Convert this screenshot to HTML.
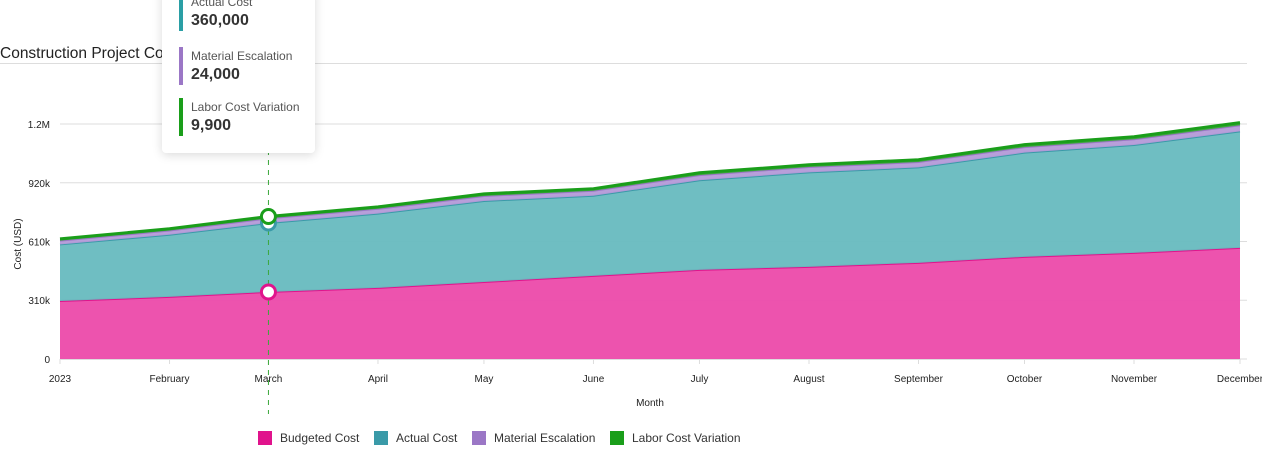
<!DOCTYPE html>
<html><head><meta charset="utf-8"><style>
body{margin:0;width:1280px;height:454px;overflow:hidden;background:#fff;font-family:"Liberation Sans",sans-serif;}
svg text{font-family:"Liberation Sans",sans-serif;}
</style></head><body>
<svg id="chart" width="1280" height="454" xmlns="http://www.w3.org/2000/svg">
<defs><clipPath id="cp"><rect x="0" y="0" width="1262" height="454"/></clipPath></defs>
<g clip-path="url(#cp)">
<text x="0" y="58" font-size="15.5" fill="#222">Construction Project Cost Overview (2023)</text>
<line x1="0" y1="63.5" x2="1247" y2="63.5" stroke="#ddd"/>
<g id="grid"></g>
<g id="areas"></g>
<g id="xaxis"></g>
<text transform="translate(21,244) rotate(-90)" text-anchor="middle" font-size="10" fill="#222">Cost (USD)</text>
<text x="650" y="406" text-anchor="middle" font-size="10" fill="#222">Month</text>
<g id="hover"></g>
<g id="legend"></g>
</g>
</svg>
<div style="position:absolute;left:162px;top:-12px;width:153px;height:165px;background:#fff;border-radius:4px;box-shadow:0 2px 10px rgba(0,0,0,0.15);font-family:'Liberation Sans',sans-serif;">
 <div style="position:absolute;left:17px;top:5px;border-left:4px solid #2a9fa5;padding-left:8px;height:38px;">
  <div style="font-size:12px;color:#555;line-height:18px">Actual Cost</div><div style="font-size:16px;font-weight:bold;color:#333;line-height:20px">360,000</div></div>
 <div style="position:absolute;left:17px;top:59px;border-left:4px solid #9b77c6;padding-left:8px;height:38px;">
  <div style="font-size:12px;color:#555;line-height:18px">Material Escalation</div><div style="font-size:16px;font-weight:bold;color:#333;line-height:20px">24,000</div></div>
 <div style="position:absolute;left:17px;top:110px;border-left:4px solid #1a9e1a;padding-left:8px;height:38px;">
  <div style="font-size:12px;color:#555;line-height:18px">Labor Cost Variation</div><div style="font-size:16px;font-weight:bold;color:#333;line-height:20px">9,900</div></div>
</div>
<script>
const months=["2023","February","March","April","May","June","July","August","September","October","November","December"];
const dayOfYear=[0,31,59,90,120,151,181,212,243,273,304,334];
const budgeted=[303000,324000,350000,371000,402000,434000,465000,481000,502000,533000,554000,580000];
const actual=[295000,324500,360000,388000,423000,418000,468000,493000,498000,544000,563000,608000];
const material=[20000,22000,24000,25000,26000,26000,27000,28000,28000,29000,30000,32000];
const labor=[9000,9500,9900,10000,11000,11000,12000,12000,12000,13000,13000,14000];
const yTicks=[0,306667,613333,920000,1226667];
const yTickLabels=["0","310k","610k","920k","1.2M"];
const NS="http://www.w3.org/2000/svg";
const X0=60,X1=1240,Y0=359,Y1=124,YMAX=1226667;
const x=d=>X0+(d/334)*(X1-X0);
const y=v=>Y0-(v/YMAX)*(Y0-Y1);
function mk(tag,attrs,parent){const e=document.createElementNS(NS,tag);for(const k in attrs)e.setAttribute(k,attrs[k]);parent.appendChild(e);return e;}
const grid=document.getElementById('grid');
yTicks.forEach((t,i)=>{
 const l=mk('line',{x1:X0,x2:1247,y1:y(t),y2:y(t),stroke:'#ddd'},grid);
 
 
 const tx=mk('text',{x:50,y:y(t)+4,'text-anchor':'end','font-size':'10',fill:'#222'},grid);
 
 
 tx.textContent=yTickLabels[i];
});
const series=[
 {name:'budgeted',vals:budgeted,fill:'#ec4aaa',stroke:'#e0138c',label:'Budgeted Cost'},
 {name:'actual',vals:actual,fill:'#67bbbf',stroke:'#3a9aa8',label:'Actual Cost'},
 {name:'material',vals:material,fill:'#b49ad8',stroke:'#9b77c6',label:'Material Escalation'},
 {name:'labor',vals:labor,fill:'#3aa83a',stroke:'#1a9e1a',label:'Labor Cost Variation'}];
const areas=document.getElementById('areas');
let base=months.map(()=>0);
const tops=[];
series.forEach(s=>{
 const top=base.map((b,i)=>b+s.vals[i]);
 let d='M'+months.map((m,i)=>x(dayOfYear[i])+','+y(top[i])).join(' L');
 let back=months.map((m,i)=>x(dayOfYear[i])+','+y(base[i])).reverse().join(' L');
 const a=mk('path',{d:d+' L'+back+' Z',fill:s.fill,opacity:0.95},areas);
 
 
 const ln=mk('path',{d:d,fill:'none',stroke:s.stroke,'stroke-width':s.name==='labor'?3:2},areas);
 
 
 tops.push(top);base=top;
});
const xa=document.getElementById('xaxis');
const ax=mk('line',{x1:X0,x2:X1,y1:Y0+0.5,y2:Y0+0.5,stroke:'#ddd'},xa);


months.forEach((m,i)=>{
 const tk=mk('line',{x1:x(dayOfYear[i]),x2:x(dayOfYear[i]),y1:Y0,y2:Y0+5,stroke:'#ddd'},xa);
 
 
 const t=mk('text',{x:x(dayOfYear[i]),y:382,'text-anchor':'middle','font-size':'10',fill:'#222'},xa);
 
 
 t.textContent=m;
});
const hv=document.getElementById('hover');
const hi=2,hx=x(dayOfYear[hi]);
const cross=mk('line',{x1:hx,x2:hx,y1:150,y2:414,stroke:'#3aa83a','stroke-dasharray':'5,5'},hv);


[[0,'#e0138c'],[1,'#3a9aa8'],[3,'#1a9e1a']].forEach(([si,c])=>{
 const p=mk('circle',{cx:hx,cy:y(tops[si][hi]),r:7,fill:'#fff',stroke:c,'stroke-width':3},hv);
 
 
});
const lg=document.getElementById('legend');
const lx=[258,374,472,610];
series.forEach((s,i)=>{
 const r=mk('rect',{x:lx[i],y:431,width:14,height:14,fill:s.stroke},lg);
 
 
 const t=mk('text',{x:lx[i]+22,y:442,'font-size':'12',fill:'#333'},lg);
 
 
 t.textContent=s.label;
});
</script>
</body></html>
